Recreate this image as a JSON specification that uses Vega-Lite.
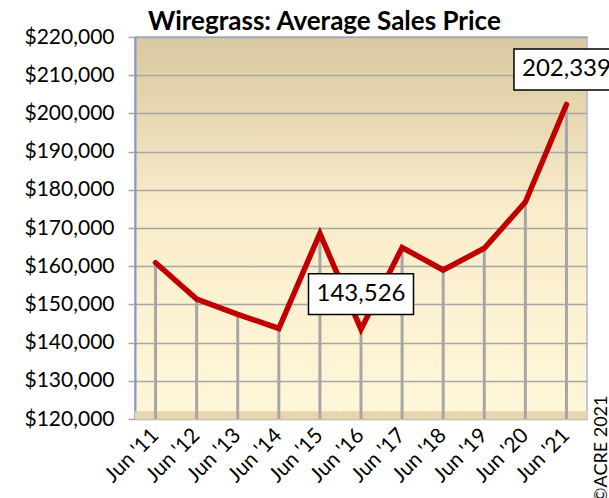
{
  "$schema": "https://vega.github.io/schema/vega-lite/v6.json",
  "autosize": {"type": "none"},
  "padding": {"left": 135, "top": 37, "right": 22, "bottom": 79},
  "width": 452,
  "height": 382,
  "background": "white",
  "title": {
    "text": "Wiregrass: Average Sales Price",
    "font": "Lato",
    "fontSize": 26,
    "fontWeight": "bold",
    "color": "black",
    "anchor": "start",
    "frame": "group",
    "dx": 13,
    "dy": 28,
    "baseline": "bottom",
    "offset": -7
  },
  "data": {
    "values": [
      {"period": "Jun '11", "price": 160900},
      {"period": "Jun '12", "price": 151400},
      {"period": "Jun '13", "price": 147400},
      {"period": "Jun '14", "price": 143700},
      {"period": "Jun '15", "price": 168600},
      {"period": "Jun '16", "price": 143526},
      {"period": "Jun '17", "price": 164900},
      {"period": "Jun '18", "price": 159000},
      {"period": "Jun '19", "price": 164700},
      {"period": "Jun '20", "price": 176800},
      {"period": "Jun '21", "price": 202339}
    ]
  },
  "encoding": {
    "x": {
      "field": "period",
      "type": "ordinal",
      "sort": null,
      "scale": {"type": "band", "paddingInner": 0, "paddingOuter": 0},
      "axis": {
        "title": null,
        "labelAngle": -45,
        "labelAlign": "right",
        "labelBaseline": "middle",
        "labelPadding": 13,
        "labelFont": "Lato",
        "labelFontSize": 21,
        "labelColor": "black",
        "ticks": false,
        "domain": true,
        "domainColor": "#c9bfa5",
        "domainWidth": 1,
        "grid": false
      }
    }
  },
  "layer": [
    {
      "mark": {"type": "rect", "color": "#e6d5ae"},
      "encoding": {
        "y": {
          "datum": 120000,
          "type": "quantitative",
          "scale": {"domain": [120000, 220000], "nice": false, "zero": false},
          "axis": {
            "values": [120000, 130000, 140000, 150000, 160000, 170000, 180000, 190000, 200000, 210000, 220000],
            "tickCount": 12,
            "labelOverlap": false,
            "grid": true
          }
        },
        "y2": {"datum": 122000}
      }
    },
    {
      "mark": {"type": "rule", "color": "#a6a6a6", "strokeWidth": 3},
      "encoding": {
        "y": {"field": "price", "type": "quantitative"},
        "y2": {"datum": 120000}
      }
    },
    {
      "mark": {"type": "line", "color": "#c00000", "strokeWidth": 5.5, "strokeCap": "round", "strokeJoin": "miter"},
      "encoding": {
        "y": {"field": "price", "type": "quantitative"}
      }
    },
    {
      "transform": [{"filter": "datum.period === \"Jun '16\" || datum.period === \"Jun '21\""}],
      "mark": {
        "type": "point",
        "shape": "M-1,-0.39H1V0.39H-1Z",
        "size": 11025,
        "filled": true,
        "fill": "white",
        "stroke": "black",
        "strokeWidth": 1.5,
        "opacity": 1,
        "yOffset": -35
      },
      "encoding": {
        "y": {"field": "price", "type": "quantitative"}
      }
    },
    {
      "transform": [{"filter": "datum.period === \"Jun '16\" || datum.period === \"Jun '21\""}],
      "mark": {
        "type": "text",
        "font": "Lato",
        "fontSize": 24,
        "color": "black",
        "align": "center",
        "baseline": "middle",
        "yOffset": -35
      },
      "encoding": {
        "y": {"field": "price", "type": "quantitative"},
        "text": {"field": "price", "type": "quantitative", "format": ",.0f"}
      }
    },
    {
      "transform": [{"filter": "datum.period === \"Jun '21\""}],
      "mark": {
        "type": "text",
        "text": "©ACRE 2021",
        "font": "Lato",
        "fontSize": 18,
        "color": "black",
        "angle": 270,
        "align": "center",
        "baseline": "middle",
        "xOffset": 36,
        "yOffset": 30
      },
      "encoding": {
        "y": {"datum": 120000, "type": "quantitative"}
      }
    }
  ],
  "config": {
    "axisY": {
      "title": null,
      "tickCount": 12,
      "values": [120000, 130000, 140000, 150000, 160000, 170000, 180000, 190000, 200000, 210000, 220000],
      "labelOverlap": false,
      "format": "$,.0f",
      "labelFont": "Lato",
      "labelFontSize": 21,
      "labelColor": "black",
      "labelPadding": 14,
      "tickSize": 7,
      "tickColor": "#a6a6a6",
      "tickWidth": 1.5,
      "domainColor": "#8a97b8",
      "domainWidth": 2,
      "grid": true,
      "gridColor": "#a6a6a6",
      "gridWidth": 1.5
    },
    "view": {
      "stroke": "#a8b9dc",
      "strokeWidth": 1.5,
      "fill": {
        "gradient": "linear",
        "x1": 0, "y1": 0, "x2": 0, "y2": 1,
        "stops": [
          {"offset": 0, "color": "#d9c8a0"},
          {"offset": 0.45, "color": "#f9ecca"},
          {"offset": 1, "color": "#fff7d9"}
        ]
      }
    }
  }
}
